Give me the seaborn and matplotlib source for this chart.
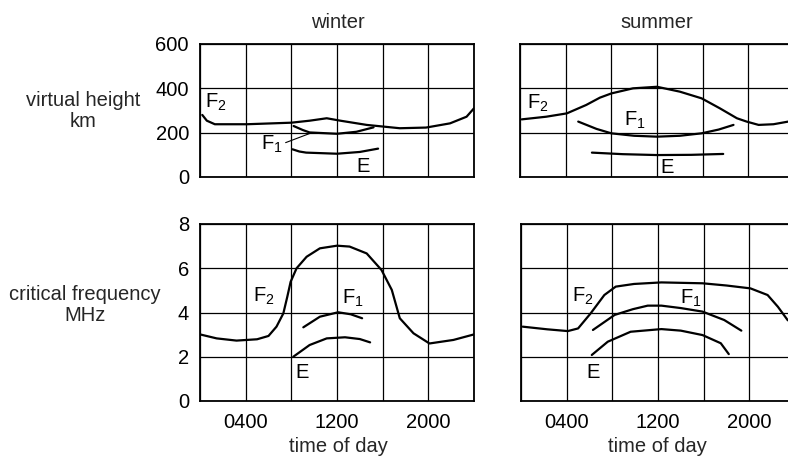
import numpy as np
import pandas as pd
import matplotlib
matplotlib.use("Agg")
import matplotlib.pyplot as plt
import seaborn as sns

sns.set_theme(style="white")
plt.rcParams['font.family'] = ['Liberation Sans', 'DejaVu Sans']
plt.rcParams['mathtext.fontset'] = 'custom'
plt.rcParams['mathtext.rm'] = 'Liberation Sans'
plt.rcParams['mathtext.it'] = 'Liberation Sans'

FS = 14.5

# ---------------- data ----------------
# winter virtual height (km)
w_h_F2_t = [0.2, 0.6, 1.3, 4.1, 8.0, 9.6, 11.1, 12.3, 14.6, 17.5, 19.8, 21.9, 23.35, 24.0]
w_h_F2_v = [280, 254, 238, 238, 245, 254, 265, 254, 235, 220, 223, 242, 272, 310]
w_h_F1_t = [8.2, 9.0, 9.6, 12.0, 13.7, 15.2]
w_h_F1_v = [230, 212, 201, 195, 204, 224]
w_h_E_t = [8.1, 8.7, 9.3, 12.0, 14.0, 15.6]
w_h_E_v = [125, 115, 110, 105, 113, 128]

# summer virtual height (km)
s_h_F2_t = [0.15, 2.3, 4.1, 5.8, 7.0, 8.0, 9.9, 12.0, 14.0, 15.9, 17.5, 19.0, 19.85, 20.9, 22.2, 23.5, 24.0]
s_h_F2_v = [260, 272, 287, 325, 358, 377, 400, 407, 385, 355, 310, 265, 250, 235, 238, 250, 255]
s_h_F1_t = [5.1, 6.7, 8.0, 10.0, 12.0, 14.0, 15.9, 17.4, 18.7]
s_h_F1_v = [250, 217, 197, 186, 182, 186, 197, 214, 235]
s_h_E_t = [6.3, 9.0, 12.0, 15.0, 17.8]
s_h_E_v = [110, 103, 99, 100, 104]

# winter critical frequency (MHz)
w_f_F2_t = [0.0, 1.46, 3.2, 5.0, 6.0, 6.7, 7.3, 7.65, 7.94, 8.46, 9.34, 10.5, 12.0, 13.1, 14.6, 15.9, 16.8, 17.5, 18.7, 20.1, 22.2, 24.0]
w_f_F2_v = [3.01, 2.83, 2.73, 2.79, 2.94, 3.36, 3.96, 4.72, 5.39, 6.0, 6.52, 6.9, 7.02, 6.98, 6.67, 5.92, 5.02, 3.74, 3.06, 2.6, 2.76, 3.01]
w_f_F1_t = [9.05, 10.5, 12.1, 13.2, 14.2]
w_f_F1_v = [3.33, 3.81, 4.01, 3.92, 3.74]
w_f_E_t = [8.17, 9.6, 11.1, 12.7, 14.0, 14.9]
w_f_E_v = [2.0, 2.53, 2.83, 2.88, 2.8, 2.65]

# summer critical frequency (MHz)
s_f_F2_t = [0.15, 2.3, 4.1, 5.0, 6.1, 7.3, 8.3, 9.9, 12.3, 15.9, 18.0, 20.1, 21.6, 22.5, 23.35, 24.0]
s_f_F2_v = [3.36, 3.24, 3.16, 3.28, 3.96, 4.79, 5.17, 5.29, 5.36, 5.32, 5.22, 5.09, 4.79, 4.26, 3.66, 3.45]
s_f_F1_t = [6.3, 8.2, 9.8, 11.1, 12.3, 14.0, 15.9, 17.8, 19.3]
s_f_F1_v = [3.21, 3.89, 4.15, 4.31, 4.31, 4.2, 4.04, 3.66, 3.18]
s_f_E_t = [6.2, 7.6, 9.6, 12.3, 14.0, 15.9, 17.5, 18.2]
s_f_E_v = [2.08, 2.68, 3.13, 3.25, 3.18, 2.98, 2.61, 2.12]

x_ticks = [0, 4, 8, 12, 16, 20, 24]
x_ticklabels = ['', '0400', '', '1200', '', '2000', '']
h_ticks = [0, 200, 400, 600]
f_ticks = [0, 2, 4, 6, 8]

# label positions (hour, value)
w_h_labels = {'F2': (1.4, 338), 'F1': (6.3, 146), 'E': (14.3, 48)}
s_h_labels = {'F2': (1.6, 330), 'F1': (10.1, 257), 'E': (12.9, 45)}
w_f_labels = {'F2': (5.55, 4.72), 'F1': (13.4, 4.62), 'E': (8.9, 1.27)}
s_f_labels = {'F2': (5.4, 4.72), 'F1': (14.9, 4.64), 'E': (6.3, 1.27)}
# leader from winter F1 label to its curve
w_h_leader_t = [7.5, 9.8]
w_h_leader_v = [155, 200]


def frame(series):
    rows = []
    for name, (t, v) in series.items():
        for a, b in zip(t, v):
            rows.append({'layer': name, 'hour': a, 'value': b})
    return pd.DataFrame(rows)


panels = [
    ('w_h', frame({'F2': (w_h_F2_t, w_h_F2_v), 'F1': (w_h_F1_t, w_h_F1_v), 'E': (w_h_E_t, w_h_E_v)}), w_h_labels),
    ('s_h', frame({'F2': (s_h_F2_t, s_h_F2_v), 'F1': (s_h_F1_t, s_h_F1_v), 'E': (s_h_E_t, s_h_E_v)}), s_h_labels),
    ('w_f', frame({'F2': (w_f_F2_t, w_f_F2_v), 'F1': (w_f_F1_t, w_f_F1_v), 'E': (w_f_E_t, w_f_E_v)}), w_f_labels),
    ('s_f', frame({'F2': (s_f_F2_t, s_f_F2_v), 'F1': (s_f_F1_t, s_f_F1_v), 'E': (s_f_E_t, s_f_E_v)}), s_f_labels),
]

W, H = 788, 463
fig = plt.figure(figsize=(W / 100, H / 100), dpi=100)


def px_axes(x0, y0, x1, y1):
    return fig.add_axes([x0 / W, 1 - y1 / H, (x1 - x0) / W, (y1 - y0) / H])


axes = {
    'w_h': px_axes(200, 44, 474, 177),
    's_h': px_axes(520, 44, 794, 177),
    'w_f': px_axes(200, 224, 474, 401),
    's_f': px_axes(521, 224, 795, 401),
}

label_text = {'F2': r'F$_\mathregular{2}$', 'F1': r'F$_\mathregular{1}$', 'E': 'E'}

for key, df, labels in panels:
    ax = axes[key]
    for layer in ['F2', 'F1', 'E']:
        sub = df[df['layer'] == layer]
        sns.lineplot(data=sub, x='hour', y='value', ax=ax, color='black',
                     lw=1.6, estimator=None, sort=False, legend=False)
    ax.set_xlim(0, 24)
    if key.endswith('_h'):
        ax.set_ylim(0, 600)
        ax.set_yticks(h_ticks)
    else:
        ax.set_ylim(0, 8)
        ax.set_yticks(f_ticks)
    ax.set_xticks(x_ticks)
    ax.grid(True, color='black', lw=0.9)
    ax.set_axisbelow(True)
    for s in ax.spines.values():
        s.set_color('black')
        s.set_linewidth(1.3)
    ax.tick_params(length=0, labelsize=FS, colors='black')
    ax.tick_params(axis='y', pad=8)
    ax.tick_params(axis='x', pad=9)
    if key.endswith('_f'):
        ax.set_xticklabels(x_ticklabels)
    else:
        ax.set_xticklabels([])
    if key.startswith('s'):
        ax.set_yticklabels([])
    ax.set_xlabel('')
    ax.set_ylabel('')
    for layer, (tx, ty) in labels.items():
        ax.text(tx, ty, label_text[layer], fontsize=FS, ha='center', va='center', color='black')

axes['w_h'].plot(w_h_leader_t, w_h_leader_v, color='black', lw=0.8)

fig.text(338 / W, 1 - 22 / H, 'winter', fontsize=FS, ha='center', va='center')
fig.text(657 / W, 1 - 22 / H, 'summer', fontsize=FS, ha='center', va='center')
fig.text(338 / W, 1 - 446 / H, 'time of day', fontsize=FS, ha='center', va='center')
fig.text(657 / W, 1 - 446 / H, 'time of day', fontsize=FS, ha='center', va='center')
fig.text(83 / W, 1 - 111 / H, 'virtual height\nkm', fontsize=FS, ha='center', va='center', linespacing=1.1)
fig.text(85 / W, 1 - 305 / H, 'critical frequency\nMHz', fontsize=FS, ha='center', va='center', linespacing=1.1)

fig.savefig('out.png', dpi=100)
